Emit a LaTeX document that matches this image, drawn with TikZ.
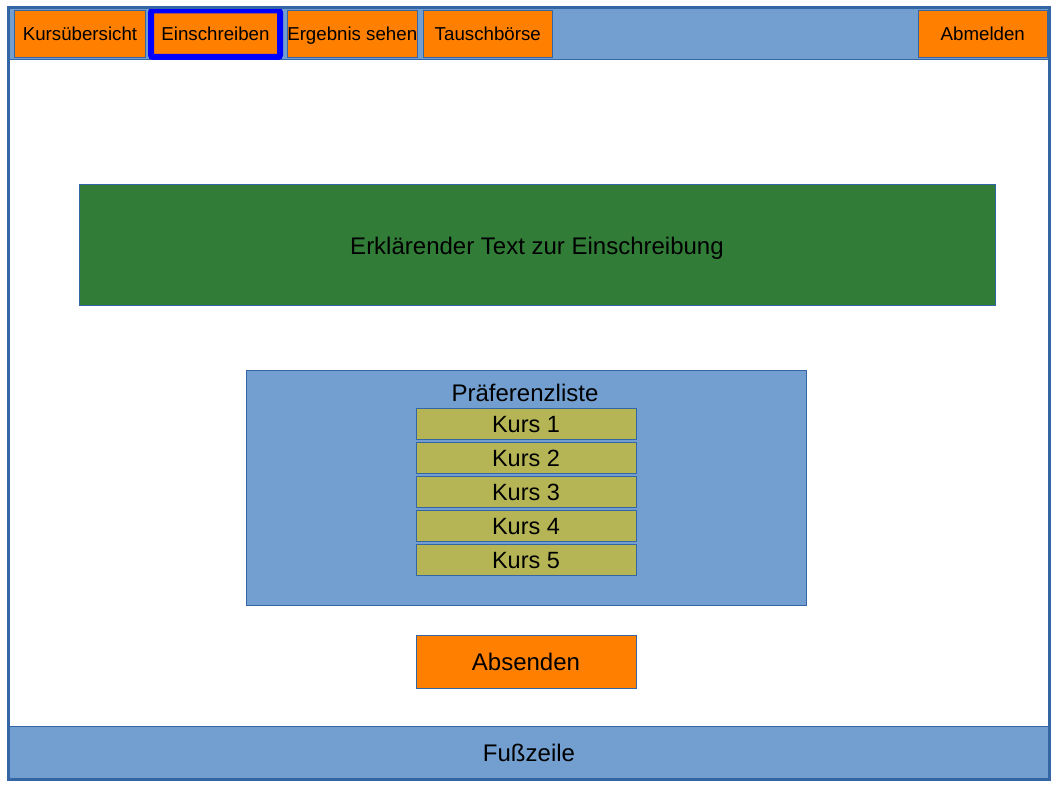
\documentclass[tikz,border=0pt]{standalone}
\usepackage{fontspec}
\setmainfont{Liberation Sans}
\definecolor{lblue}{HTML}{729FCF}
\definecolor{dblue}{HTML}{3465A4}
\definecolor{orng}{HTML}{FF8000}
\definecolor{grn}{HTML}{317D38}
\definecolor{olive}{HTML}{B5B556}
\tikzset{
  box/.style={draw=dblue, line width=1pt, inner sep=0pt, outer sep=0pt},
  navbtn/.style={box, fill=orng, minimum height=47pt, font=\fontsize{18.7}{22}\selectfont, text height=13.4pt, text depth=0pt},
  kurs/.style={box, fill=olive, minimum width=220pt, minimum height=31pt, font=\fontsize{23.5}{28}\selectfont, text height=16.8pt, text depth=0pt},
  big/.style={font=\fontsize{24}{29}\selectfont, text height=17.2pt, text depth=0pt},
}
\begin{document}
\begin{tikzpicture}[x=1pt,y=-1pt]
\useasboundingbox (0,0) rectangle (1058,794);
\fill[white] (0,0) rectangle (1058,794);
% top bar
\node[box, fill=lblue, anchor=north west, minimum width=1041pt, minimum height=52pt] (topbar) at (8.5,8) {};
% footer
\node[box, fill=lblue, anchor=north west, minimum width=1041pt, minimum height=53.5pt, big] (footer) at (8.5,726) {Fußzeile};
% nav buttons
\node[navbtn, minimum width=131pt] (kuebers) at (80,33.75) {Kursübersicht};
\node[navbtn, draw=blue, line width=6pt, rounded corners=2pt, minimum width=129pt, minimum height=46.5pt] (einschr) at (215.5,33.75) {Einschreiben};
\node[navbtn, minimum width=129.5pt] (ergebnis) at (352.25,33.75) {Ergebnis sehen};
\node[navbtn, minimum width=129.5pt] (tausch) at (487.75,33.75) {Tauschbörse};
\node[navbtn, minimum width=129.5pt] (abmelden) at (982.75,33.75) {Abmelden};
% explanatory text
\node[box, fill=grn, minimum width=916pt, minimum height=121pt, big] (erkl) at (537,245.5) {Erklärender Text zur Einschreibung};
% preference list
\node[box, fill=lblue, minimum width=560pt, minimum height=234pt] (pref) at (526,488) {};
\node[big, inner sep=0pt] (preftitle) at (525,392.5) {Präferenzliste};
\node[kurs] (k1) at (526,423.75) {Kurs 1};
\node[kurs] (k2) at (526,457.75) {Kurs 2};
\node[kurs] (k3) at (526,491.75) {Kurs 3};
\node[kurs] (k4) at (526,525.75) {Kurs 4};
\node[kurs] (k5) at (526,559.75) {Kurs 5};
% submit
\node[box, fill=orng, minimum width=220pt, minimum height=53pt, big] (absenden) at (526,661.75) {Absenden};
% outer frame
\draw[dblue, line width=3pt] (8.5,8) rectangle (1049.5,779.5);
\end{tikzpicture}
\end{document}
